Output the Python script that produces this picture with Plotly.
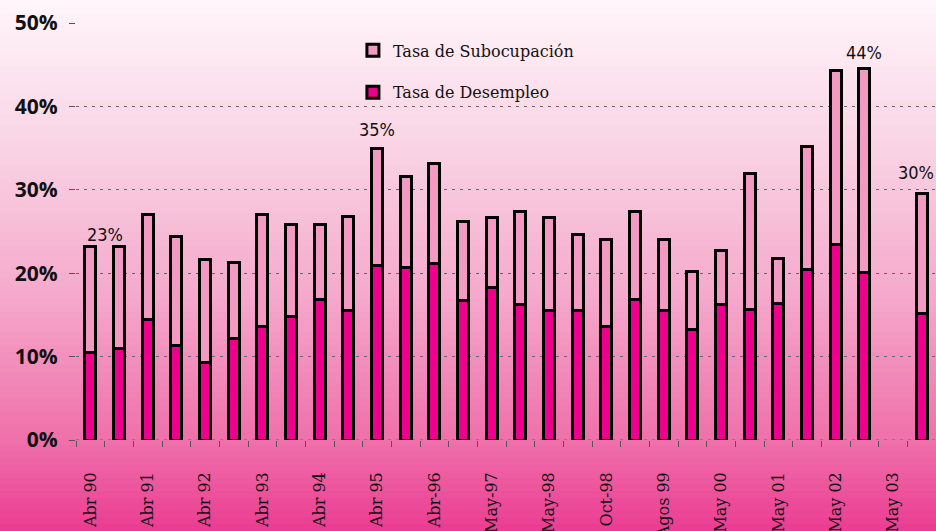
import plotly.graph_objects as go

# periodo de cada barra (0..29); la barra 28 (May 03) va vacia
bar_pos = list(range(30))
tick_pos = list(range(0, 30, 2))
tick_labels = ["Abr 90", "Abr 91", "Abr 92", "Abr 93", "Abr 94", "Abr 95", "Abr-96",
               "May-97", "May-98", "Oct-98", "Agos 99", "May 00", "May 01", "May 02", "May 03"]

desempleo = [10.5, 11.0, 14.5, 11.3, 9.3, 12.2, 13.6, 14.8, 16.9, 15.5,
             20.9, 20.7, 21.2, 16.7, 18.3, 16.2, 15.5, 15.5, 13.6, 16.9,
             15.5, 13.3, 16.2, 15.7, 16.4, 20.4, 23.5, 20.1, None, 15.2]
subocupacion = [12.7, 12.2, 12.5, 13.1, 12.3, 9.1, 13.4, 11.0, 8.9, 11.3,
                14.0, 10.9, 11.9, 9.5, 8.4, 11.2, 11.2, 9.1, 10.5, 10.5,
                8.5, 6.9, 6.5, 16.2, 5.4, 14.8, 20.8, 24.5, None, 14.3]

# etiquetas de totales destacados
label_x = [0.5, 10, 27, 28.8]
label_y = [24.6, 37.2, 46.5, 32.1]
label_text = ["23%", "35%", "44%", "30%"]

y_ticks = [0, 10, 20, 30, 40, 50]

W, H = 936, 531
ML, MR, MT, MB = 76, 0, 23, 91

fig = go.Figure()
fig.add_trace(go.Bar(x=bar_pos, y=desempleo, name="Tasa de Desempleo",
                     marker=dict(color="#EC008C", line=dict(color="black", width=3)),
                     width=0.38, legendgroup="b", legendrank=2))
fig.add_trace(go.Bar(x=bar_pos, y=subocupacion, name="Tasa de Subocupación",
                     marker=dict(color="#F39AC3", line=dict(color="black", width=3)),
                     width=0.38, legendgroup="a", legendrank=1))

for x, y, t in zip(label_x, label_y, label_text):
    fig.add_annotation(x=x, y=y, text=t, showarrow=False,
                       font=dict(family="DejaVu Sans Condensed, DejaVu Sans", size=18, color="#111"))

#-------------------------------------------#
# fondo degradado (franjas en coordenadas paper)
stops = [(0.0, (255, 246, 250)), (0.3, (249, 208, 226)), (0.55, (245, 170, 204)),
         (0.83, (239, 112, 170)), (1.0, (235, 60, 146))]

def grad(t):
    for (t0, c0), (t1, c1) in zip(stops[:-1], stops[1:]):
        if t <= t1:
            f = (t - t0) / (t1 - t0)
            return "rgb(%d,%d,%d)" % tuple(round(a + (b - a) * f) for a, b in zip(c0, c1))
    return "rgb(%d,%d,%d)" % stops[-1][1]

ph = H - MT - MB
pw = W - ML - MR
n = 80
for i in range(n):
    y0px = H * i / n
    y1px = H * (i + 1) / n + 1
    fig.add_shape(type="rect", xref="paper", yref="paper", layer="below",
                  x0=-ML / pw, x1=1.01,
                  y0=(H - MB - y1px) / ph, y1=(H - MB - y0px) / ph,
                  fillcolor=grad((i + 0.5) / n), line_width=0)

# linea punteada en 0%
fig.add_shape(type="line", xref="paper", yref="y", x0=0, x1=1, y0=0, y1=0,
              layer="below", line=dict(color="#666", width=1, dash="3px,5px"))

fig.update_layout(
    width=W, height=H,
    margin=dict(l=ML, r=MR, t=MT, b=MB, autoexpand=False),
    barmode="stack",
    paper_bgcolor="rgba(0,0,0,0)",
    plot_bgcolor="rgba(0,0,0,0)",
    showlegend=True,
    legend=dict(x=0.322, y=0.975, xanchor="left", yanchor="top",
                bgcolor="rgba(0,0,0,0)", traceorder="grouped",
                tracegroupgap=18,
                font=dict(family="DejaVu Serif", size=16, color="#111")),
    xaxis=dict(range=[-0.5, 29.5], tickvals=tick_pos, ticktext=tick_labels,
               tickangle=-90, ticks="", showgrid=False, zeroline=False,
               automargin=False, ticklabelstandoff=28,
               tickfont=dict(family="DejaVu Serif", size=16, color="#111"),
               minor=dict(tickvals=[i - 0.5 for i in range(31)], ticks="outside",
                          ticklen=6, tickcolor="#555", tickwidth=1, showgrid=False)),
    yaxis=dict(range=[0, 50], tickvals=y_ticks, ticktext=["%d%%" % v for v in y_ticks],
               ticks="outside", ticklen=6, tickcolor="#555", automargin=False,
               showgrid=True, gridcolor="#666", gridwidth=1, griddash="3px,5px",
               zeroline=False, ticklabelstandoff=7,
               tickfont=dict(family="Open Sans", size=21, color="#111", weight="bold")),
)

# sin margen del body para que la figura llene la ventana
fig.write_html("out.html", config={"displayModeBar": False},
               post_script="document.body.style.margin='0';")
